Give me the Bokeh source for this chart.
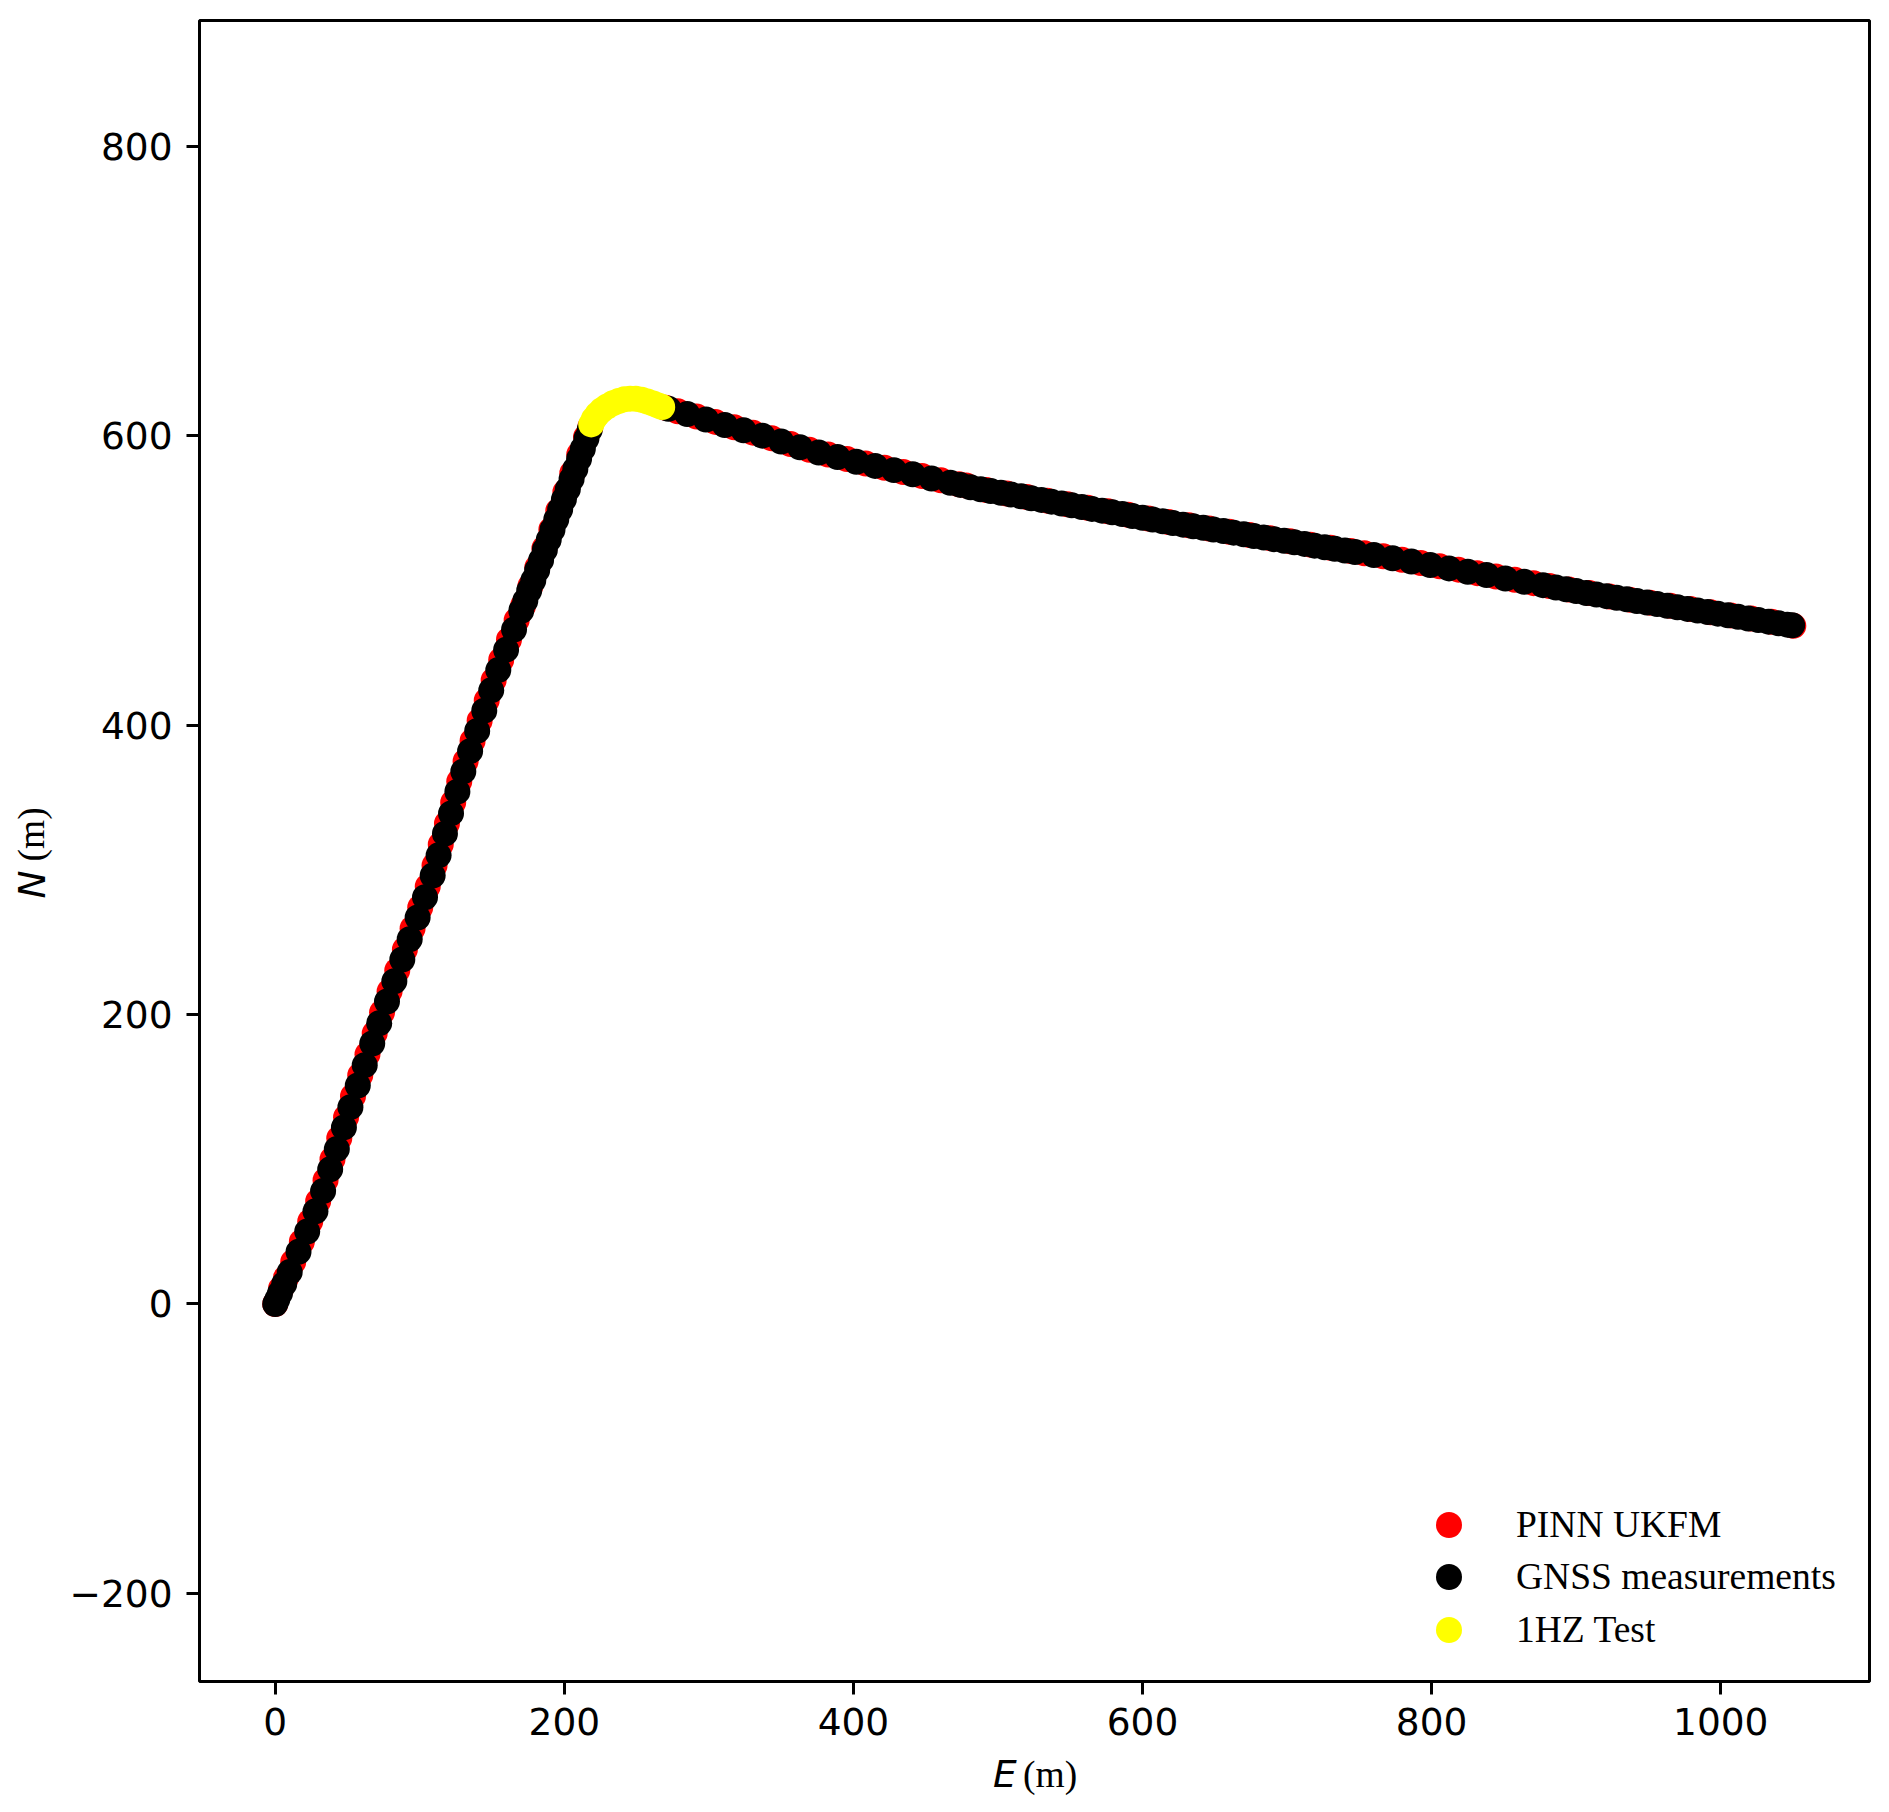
from bokeh.plotting import figure
from bokeh.models import Range1d, FixedTicker, Label, Legend, LegendItem, ColumnDataSource
from bokeh.layouts import row, column
from bokeh.embed import file_html
from bokeh.resources import INLINE
import math

# ---------------- data ----------------
# PINN UKFM estimate (E, N) in metres
pinn_e = [0.0, 4.0, 7.4, 12.4, 18.4, 24.2, 29.7, 34.8, 39.6, 44.3, 49.0, 53.8, 58.8, 63.8,
          68.8, 73.9, 79.1, 84.4, 89.7, 95.0, 100.3, 105.5, 110.2, 114.5, 118.8, 123.1,
          127.3, 131.7, 136.5, 141.4, 146.3, 151.1, 156.3, 161.7, 167.0, 171.5, 176.5,
          181.3, 186.2, 191.0, 195.8, 200.7, 205.5, 210.3, 215.0, 218.0,
          270.0, 278.5, 291.5, 304.5, 317.5, 330.5, 343.5, 356.5, 369.5, 382.5, 395.5,
          408.5, 421.5, 434.5, 447.5, 460.5, 473.0, 478.0, 492.0, 506.0, 520.0, 534.0,
          548.0, 562.0, 576.0, 590.0, 604.0, 618.0, 632.0, 646.0, 660.0, 674.0, 688.0,
          702.0, 716.0, 730.0, 744.0, 753.5, 766.5, 779.5, 792.5, 805.5, 818.5, 831.5,
          844.5, 857.5, 870.5, 881.5, 895.0, 909.0, 923.0, 937.0, 951.0, 965.0, 979.0,
          993.0, 1007.0, 1021.0, 1035.0, 1050.2]
pinn_n = [0.0, 10.5, 18.0, 29.0, 43.0, 57.0, 71.0, 85.5, 100.0, 114.5, 129.0, 143.5, 158.0,
          172.5, 187.0, 201.5, 216.0, 230.5, 245.0, 259.5, 274.0, 288.5, 303.0, 317.5,
          332.0, 346.5, 361.0, 375.0, 389.0, 403.0, 417.0, 431.0, 445.0, 459.0, 472.5,
          482.5, 496.0, 509.0, 522.0, 535.0, 548.0, 561.0, 574.0, 587.0, 599.0, 606.0,
          619.3, 616.9, 613.2, 609.5, 605.8, 602.1, 598.2, 594.2, 590.2, 587.0, 583.8,
          580.7, 577.8, 574.9, 572.1, 569.2, 566.4, 565.5, 562.5, 560.0, 557.6, 555.1,
          552.6, 550.2, 547.7, 545.3, 542.8, 540.3, 538.1, 535.9, 533.6, 531.4, 529.2,
          527.0, 524.7, 522.5, 520.3, 518.8, 516.7, 514.3, 512.0, 509.7, 507.4, 505.0,
          502.7, 500.4, 498.1, 496.1, 493.7, 491.2, 488.9, 486.7, 484.6, 482.4, 480.2,
          478.0, 475.8, 473.6, 471.4, 468.6]

# GNSS measurements (E, N) in metres
gnss_e = [0.0, 1.4, 3.3, 6.2, 10.0, 16.1, 22.1, 27.8, 33.1, 38.0, 42.6, 47.5, 52.0, 57.1,
          61.9, 67.1, 71.9, 77.3, 82.4, 87.9, 93.0, 98.5, 103.6, 108.9, 113.0, 117.4,
          121.6, 126.0, 130.1, 134.8, 139.7, 144.6, 149.4, 154.3, 159.7, 165.2, 170.2,
          173.0, 175.7, 178.5, 181.2, 183.9, 186.5, 189.2, 191.8, 194.4, 197.1, 199.7,
          202.4, 205.0, 207.6, 210.2, 212.8, 215.3, 217.5,
          272.0, 285.0, 298.0, 311.0, 324.0, 337.0, 350.0, 363.0, 376.0, 389.0, 402.0,
          415.0, 428.0, 441.0, 454.0, 467.0,
          474.0, 481.0, 488.0, 495.0, 502.0, 509.0, 516.0, 523.0, 530.0, 537.0, 544.0,
          551.0, 558.0, 565.0, 572.0, 579.0, 586.0, 593.0, 600.0, 607.0, 614.0, 621.0,
          628.0, 635.0, 642.0, 649.0, 656.0, 663.0, 670.0, 677.0, 684.0, 691.0, 698.0,
          705.0, 712.0, 719.0, 726.0, 733.0, 740.0, 747.0,
          760.0, 773.0, 786.0, 799.0, 812.0, 825.0, 838.0, 851.0, 864.0, 877.0,
          886.0, 893.0, 900.0, 907.0, 914.0, 921.0, 928.0, 935.0, 942.0, 949.0, 956.0,
          963.0, 970.0, 977.0, 984.0, 991.0, 998.0, 1005.0, 1012.0, 1019.0, 1026.0,
          1033.0, 1040.0, 1046.0, 1049.4]
gnss_n = [0.0, 3.1, 7.4, 13.8, 22.0, 36.0, 50.0, 64.0, 78.0, 93.0, 107.0, 122.0, 136.0,
          151.0, 165.0, 180.0, 194.0, 209.0, 223.0, 238.0, 252.0, 267.0, 281.0, 296.0,
          310.0, 325.0, 339.0, 354.0, 368.0, 382.0, 396.0, 410.0, 424.0, 438.0, 452.0,
          466.0, 479.0, 486.0, 493.0, 500.0, 507.0, 514.0, 521.0, 528.0, 535.0, 542.0,
          549.0, 556.0, 563.0, 570.0, 577.0, 584.0, 591.0, 598.0, 604.0,
          618.6, 614.9, 611.2, 607.4, 603.7, 600.0, 596.0, 592.0, 588.4, 585.2, 582.0,
          579.1, 576.2, 573.3, 570.4, 567.5,
          566.0, 564.4, 563.0, 561.7, 560.5, 559.3, 558.1, 556.8, 555.6, 554.4, 553.1,
          551.9, 550.7, 549.4, 548.2, 547.0, 545.8, 544.5, 543.3, 542.1, 540.8, 539.6,
          538.5, 537.4, 536.3, 535.2, 534.1, 533.0, 531.8, 530.7, 529.6, 528.5, 527.4,
          526.3, 525.2, 524.0, 522.9, 521.8, 520.7, 519.6,
          517.5, 515.3, 513.0, 510.6, 508.3, 506.0, 503.7, 501.3, 499.0, 496.7,
          495.1, 493.8, 492.6, 491.3, 490.2, 489.1, 488.0, 486.9, 485.8, 484.7, 483.6,
          482.5, 481.4, 480.3, 479.2, 478.1, 477.0, 475.9, 474.8, 473.7, 472.6, 471.5,
          470.4, 469.4, 469.0]

# 1 Hz test segment (E, N) in metres
test_e = [218.6, 220.5, 223.0, 226.0, 229.5, 233.5, 237.5, 241.5, 245.5, 249.5, 253.5,
          257.5, 261.5, 265.0, 267.7]
test_n = [607.8, 611.5, 614.8, 617.7, 620.2, 622.4, 624.0, 625.1, 625.6, 625.5, 624.8,
          623.6, 622.2, 620.9, 619.8]

x_ticks = [0, 200, 400, 600, 800, 1000]
y_ticks = [-200, 0, 200, 400, 600, 800]
series_labels = ["PINN UKFM", "GNSS measurements", "1HZ Test"]

# ---------------- styling / geometry ----------------
TICK_FONT = "DejaVu Sans"
SERIF = "Liberation Serif"
FS = "37.5px"

YLAB_W = 60          # strip on the left holding the y-axis title
MAIN_W = 1825
MAIN_H = 1751
XLAB_H = 59          # strip below holding the x-axis title
TOTAL_H = MAIN_H + XLAB_H


def blank_fig(width, height, x0, x1, y_top, y_bottom):
    f = figure(width=width, height=height, title=None,
               x_range=Range1d(x0, x1), y_range=Range1d(y_bottom, y_top),
               x_axis_type=None, y_axis_type=None,
               output_backend="svg", toolbar_location=None,
               min_border=0, min_border_left=0, min_border_right=0,
               min_border_top=0, min_border_bottom=0)
    f.outline_line_color = None
    f.background_fill_color = "white"
    f.border_fill_color = "white"
    f.xgrid.visible = False
    f.ygrid.visible = False
    return f


# ---------------- main figure ----------------
p = figure(width=MAIN_W, height=MAIN_H, title=None,
           x_range=Range1d(-52.4, 1102.9), y_range=Range1d(-260.9, 886.9),
           output_backend="svg", toolbar_location=None,
           min_border_left=139, min_border_right=16, min_border_top=20,
           min_border_bottom=MAIN_H - 1681)

p.background_fill_color = "white"
p.border_fill_color = "white"
p.outline_line_color = "black"
p.outline_line_width = 3
p.outline_line_alpha = 1.0
p.xgrid.visible = False
p.ygrid.visible = False

for ax, ticks in ((p.xaxis[0], x_ticks), (p.yaxis[0], y_ticks)):
    ax.ticker = FixedTicker(ticks=ticks)
    ax.axis_line_color = None
    ax.major_tick_out = 13
    ax.major_tick_in = 0
    ax.major_tick_line_width = 3
    ax.major_tick_line_color = "black"
    ax.minor_tick_line_color = None
    ax.major_label_text_font = TICK_FONT
    ax.major_label_text_font_size = FS
    ax.major_label_text_color = "black"

p.xaxis.major_label_standoff = 13
p.yaxis.major_label_standoff = 14
p.yaxis.major_label_overrides = {t: ("\u2212" + str(abs(t)) if t < 0 else str(t)) for t in y_ticks}

src_pinn = ColumnDataSource(dict(x=pinn_e, y=pinn_n))
src_gnss = ColumnDataSource(dict(x=gnss_e, y=gnss_n))
src_test = ColumnDataSource(dict(x=test_e, y=test_n))

r_pinn = p.scatter("x", "y", source=src_pinn, size=26, fill_color="#ff0000", line_color=None)
r_gnss = p.scatter("x", "y", source=src_gnss, size=26, fill_color="#000000", line_color=None)
r_test = p.scatter("x", "y", source=src_test, size=26, fill_color="#ffff00", line_color=None)

# one legend per entry so the row pitch can match the reference
for lab, rend, vy in zip(series_labels, (r_pinn, r_gnss, r_test), (124.5, 72, 19)):
    lg = Legend(items=[LegendItem(label=lab, renderers=[rend])],
                location=(1217, vy), glyph_width=65, glyph_height=65,
                label_standoff=35, padding=0, margin=0,
                border_line_alpha=0, background_fill_alpha=0,
                label_text_font=SERIF, label_text_font_size=FS, label_text_color="black")
    p.add_layout(lg)

# ---------------- axis titles (italic symbol + serif unit) ----------------
p_xlab = blank_fig(MAIN_W, XLAB_H, YLAB_W, YLAB_W + MAIN_W, MAIN_H, TOTAL_H)
p_xlab.add_layout(Label(x=953, y=1773.5, text="E", text_font=TICK_FONT, text_font_style="italic",
                        text_font_size=FS, text_color="black",
                        text_align="right", text_baseline="alphabetic"))
p_xlab.add_layout(Label(x=960, y=1773.5, text="(m)", text_font=SERIF,
                        text_font_size=FS, text_color="black",
                        text_align="left", text_baseline="alphabetic"))

p_ylab = blank_fig(YLAB_W, TOTAL_H, 0, YLAB_W, 0, TOTAL_H)
p_ylab.add_layout(Label(x=31, y=870, text="N", text_font=TICK_FONT, text_font_style="italic",
                        text_font_size=FS, text_color="black",
                        text_align="right", text_baseline="alphabetic",
                        angle=math.pi / 2))
p_ylab.add_layout(Label(x=31, y=861, text="(m)", text_font=SERIF,
                        text_font_size=FS, text_color="black",
                        text_align="left", text_baseline="alphabetic",
                        angle=math.pi / 2))

layout = row(p_ylab, column(p, p_xlab, spacing=0), spacing=0)

open("out.html", "w").write(file_html(layout, INLINE))
